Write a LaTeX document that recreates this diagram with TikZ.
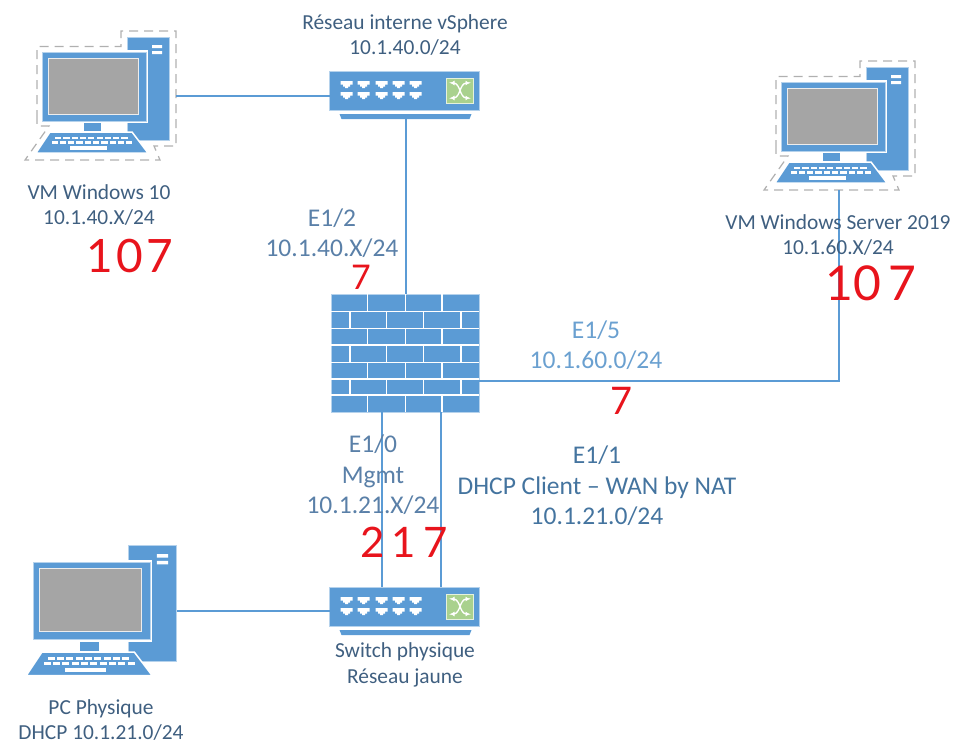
\documentclass[tikz,border=0pt]{standalone}
\usepackage{fontspec}
\setmainfont{Carlito}
\newfontfamily\handfont{Lato}
\usetikzlibrary{arrows.meta}
\definecolor{netblue}{HTML}{5B9BD5}
\definecolor{scrgray}{HTML}{A5A5A5}
\definecolor{swgreen}{HTML}{A9D18E}
\definecolor{txtdark}{HTML}{3F5F80}
\definecolor{txtmid}{HTML}{5A80A8}
\definecolor{txtlight}{HTML}{6AA0D0}
\definecolor{txtwan}{HTML}{44749F}
\definecolor{dashgray}{HTML}{B0B0B0}
\definecolor{handred}{HTML}{E8141C}
\tikzset{
  wire/.style={netblue,line width=1.3pt},
  devbody/.style={fill=netblue,draw=netblue!45,line width=.5pt,inner sep=0pt,outer sep=0pt},
  lbl/.style={align=center,inner sep=0pt,font=\fontsize{21.4}{25.5}\selectfont,text=txtdark},
  lbltwo/.style={lbl,text=txtmid,font=\fontsize{25.5}{30.5}\selectfont},
  hand/.style={inner sep=0pt,text=handred,font=\handfont\fontsize{46}{46}\selectfont},
  dashbox/.style={dashgray,line width=1.2pt,dash pattern=on 9pt off 6pt},
}
% #1 x, #2 y of monitor corner, #3 scale, #4 node name
\newcommand{\computer}[4]{%
 \begin{scope}[shift={(#1,#2)},scale=#3]
  \node[minimum width=#3*42pt,minimum height=#3*103pt,devbody,anchor=north west] (#4) at (85,-15) {};
  \fill[white] (110,-7) rectangle (120,-4) (110,-1) rectangle (120,2);
  \fill[white] (-1.7,-1.7) rectangle (105.7,70.7);
  \fill[netblue,draw=netblue!45,line width=.5pt] (0,0) rectangle (104,69);
  \fill[scrgray,draw=white!80!scrgray,line width=.9pt] (6,6) rectangle (96,62);
  \fill[netblue] (42,71) rectangle (59,79);
  \fill[netblue,draw=white,line width=1.5pt] (8,80) -- (90,80) -- (106,101) -- (-6,101) -- cycle;
  \foreach \r/\a/\n in {84.5/13/9,89/9.5/10}{
   \foreach \i in {1,...,\n}{
    \fill[white] ({\a+(\i-1)*8.3},\r) rectangle ++(6.2,2.8);
   }
  }
  \fill[white] (28,94) rectangle (65,97.5);
 \end{scope}}
% #1 x, #2 y of top left, #3 name
\newcommand{\switchdev}[3]{%
 \node[minimum width=150pt,minimum height=39pt,devbody,anchor=north west] (#3) at (#1,#2) {};
 \begin{scope}[shift={(#1,#2)}]
  \fill[netblue] (10,43) -- (142,43) -- (140,48) -- (12,48) -- cycle;
  \foreach \x in {17,34,52,69,86}{
   \foreach \y in {13,24}{
    \fill[white] (\x-6,\y-3) -- (\x+6,\y-3) -- (\x+6,\y+.7) -- (\x+3.5,\y+.7) -- (\x+3.5,\y+2.7) -- (\x+1.5,\y+2.7) -- (\x+1.5,\y+4) -- (\x-1.5,\y+4) -- (\x-1.5,\y+2.7) -- (\x-3.5,\y+2.7) -- (\x-3.5,\y+.7) -- (\x-6,\y+.7) -- cycle;
   }
  }
  \fill[swgreen,draw=white!70!swgreen,line width=.8pt] (117,7) rectangle (144,32);
  \begin{scope}[white,line width=1.3pt,{Latex[length=4.5pt,width=5pt]}-{Latex[length=4.5pt,width=5pt]}]
   \draw (120.5,12) -- (124,12) .. controls (131,12) and (130,27) .. (137,27) -- (140.5,27);
   \draw (120.5,27) -- (124,27) .. controls (131,27) and (130,12) .. (137,12) -- (140.5,12);
  \end{scope}
 \end{scope}}
\begin{document}
\begin{tikzpicture}[x=1pt,y=-1pt]
\useasboundingbox (0,0) rectangle (956,750);

% dashed selection outlines of the two VMs
\foreach \dx/\dy in {0/0,739/30}{
 \begin{scope}[shift={(\dx,\dy)}]
  \draw[dashbox] (37,119) -- (37,46.5) -- (121,46.5) -- (121,31) -- (176,31) -- (176,146) -- (154,146) -- (160,160) -- (25,160) -- (49,126) -- (37,126) -- cycle;
 \end{scope}
}

\computer{42}{52}{1}{vma}
\computer{781}{82}{1}{vmb}
\computer{33}{562}{1.125}{pc}
\switchdev{329.5}{71}{swa}
\switchdev{329.5}{587}{swb}

% firewall
\node[minimum width=148pt,minimum height=118pt,devbody,anchor=north west] (fw) at (331,294) {};
\begin{scope}[white,line width=1.2pt]
 \foreach \y in {311.7,328.3,345,362.3,379,395}{\draw (331,\y) -- (479,\y);}
 \foreach \a/\b in {294/311.7,328.3/345,362.3/379,395/412}{
  \foreach \x in {367.7,405.7,442}{\draw (\x,\a) -- (\x,\b);}
 }
 \foreach \a/\b in {311.7/328.3,345/362.3,379/395}{
  \foreach \x in {350,386.7,423.3,461}{\draw (\x,\a) -- (\x,\b);}
 }
\end{scope}

% connectors
\coordinate (vmaport) at (176,96);
\coordinate (swaleft) at (329.5,96);
\coordinate (swadown) at (406,119);
\coordinate (fwtop) at (406,294);
\coordinate (fwright) at (479,381);
\coordinate (vmbdown) at (839,190);
\coordinate (fwbota) at (382,412);
\coordinate (swbtopa) at (382,587);
\coordinate (fwbotb) at (441,412);
\coordinate (swbtopb) at (441,587);
\coordinate (pcport) at (177,611);
\coordinate (swbleft) at (329.5,611);
\draw[wire] (vmaport) -- (swaleft);
\draw[wire] (swadown) -- (fwtop);
\draw[wire] (fwright) -| (vmbdown);
\draw[wire] (fwbota) -- (swbtopa);
\draw[wire] (fwbotb) -- (swbtopb);
\draw[wire] (pcport) -- (swbleft);

% labels
\node[lbl] (t1) at (405,35) {Réseau interne vSphere\\10.1.40.0/24};
\node[lbl] (t2) at (99,205) {VM Windows 10\\10.1.40.X/24};
\node[lbl] (t3) at (838,235) {VM Windows Server 2019\\10.1.60.X/24};
\node[lbltwo] (t4) at (332,233) {E1/2\\10.1.40.X/24};
\node[lbltwo,text=txtlight] (t5) at (596,345) {E1/5\\10.1.60.0/24};
\node[lbltwo] (t6) at (373,475) {E1/0\\Mgmt\\10.1.21.X/24};
\node[lbltwo,text=txtwan] (t7) at (597,486) {E1/1\\DHCP Client – WAN by NAT\\10.1.21.0/24};
\node[lbl] (t8) at (405,665) {Switch physique\\Réseau jaune};
\node[lbl] (t9) at (101,720) {PC Physique\\DHCP 10.1.21.0/24};

% handwritten numbers
\node[hand] (h1) at (130,256) {1\kern3pt0\kern3pt7};
\node[hand,font=\handfont\fontsize{34}{34}\selectfont] (h2) at (361,277) {7};
\node[hand,font=\handfont\fontsize{48}{48}\selectfont] (h3) at (871,283) {10\kern8pt7};
\node[hand,font=\handfont\fontsize{38}{38}\selectfont] (h4) at (622,401) {7};
\node[hand,font=\handfont\fontsize{42}{42}\selectfont] (h5) at (404,542) {2\,1\,7};
\end{tikzpicture}
\end{document}
